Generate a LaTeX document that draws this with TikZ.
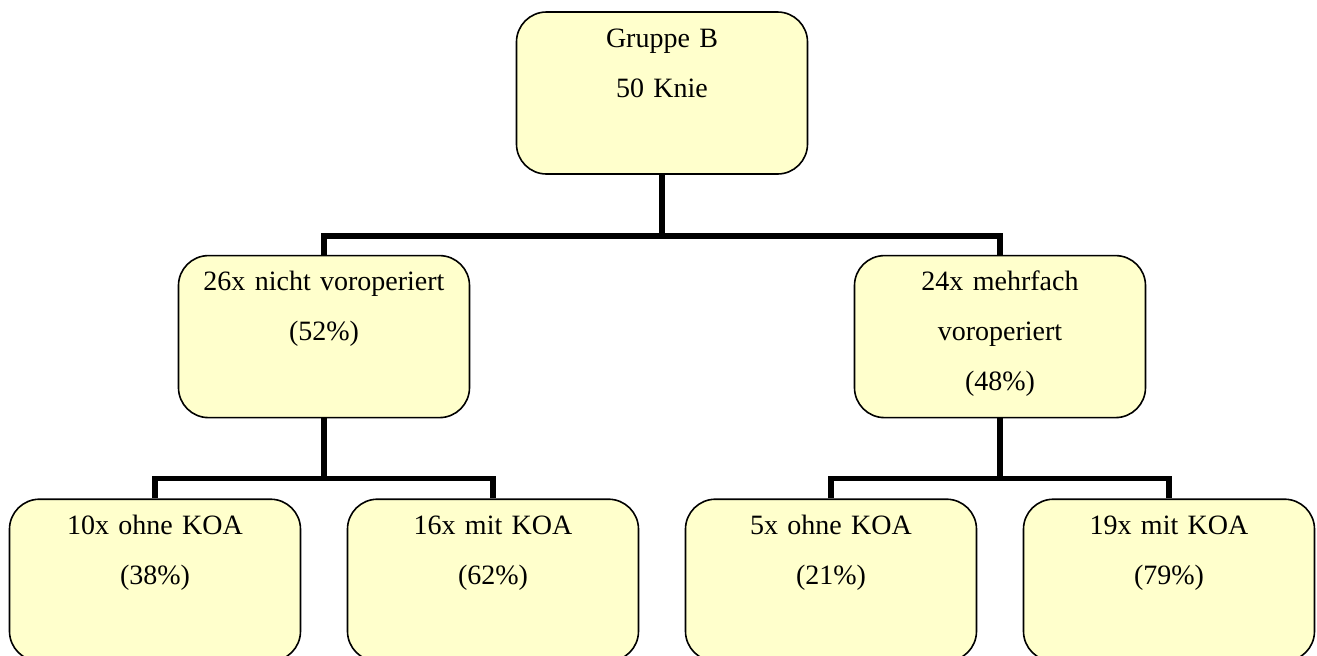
\documentclass[tikz,border=0pt]{standalone}
\usepackage{fontspec}
\setmainfont{Liberation Serif}
\usepackage{tikz}
\usetikzlibrary{positioning}
\definecolor{boxfill}{HTML}{FFFFCC}

\begin{document}
\begin{tikzpicture}[
    node distance=40pt and 23pt,
    box/.style={rounded corners=15pt, draw, line width=0.8pt, fill=boxfill,
                inner sep=0pt, text width=145.5pt, align=center,
                text height=17.5pt, text depth=63.5pt,
                font=\fontsize{14}{25}\selectfont},
    conn/.style={line width=2.8pt}
  ]
    \useasboundingbox (-331pt,46.5pt) rectangle (327.5pt,-281pt);

    \node[box] (gruppe) at (0,0) {Gruppe B\\50 Knie};

    \node[box, below=of gruppe, xshift=-169pt] (nichtvor)
      {26x nicht voroperiert\\(52\%)};
    \node[box, below=of gruppe, xshift=169pt] (mehrvor)
      {24x mehrfach\\voroperiert\\(48\%)};

    % untere Ebene
    \node[box, below=of nichtvor, xshift=-84.5pt] (nohne) {10x ohne KOA\\(38\%)};
    \node[box, below=of nichtvor, xshift=84.5pt] (nmit) {16x mit KOA\\(62\%)};
    \node[box, below=of mehrvor, xshift=-84.5pt] (mohne) {5x ohne KOA\\(21\%)};
    \node[box, below=of mehrvor, xshift=84.5pt] (mmit) {19x mit KOA\\(79\%)};

    \draw[conn] (nichtvor.north) -- ++(0,9.5pt) -| (gruppe.south);
    \draw[conn] (mehrvor.north) -- ++(0,9.5pt) -| (gruppe.south);
    \draw[conn] (nohne.north) -- ++(0,10pt) -| (nichtvor.south);
    \draw[conn] (nmit.north) -- ++(0,10pt) -| (nichtvor.south);
    \draw[conn] (mohne.north) -- ++(0,10pt) -| (mehrvor.south);
    \draw[conn] (mmit.north) -- ++(0,10pt) -| (mehrvor.south);
  \end{tikzpicture}
\end{document}
